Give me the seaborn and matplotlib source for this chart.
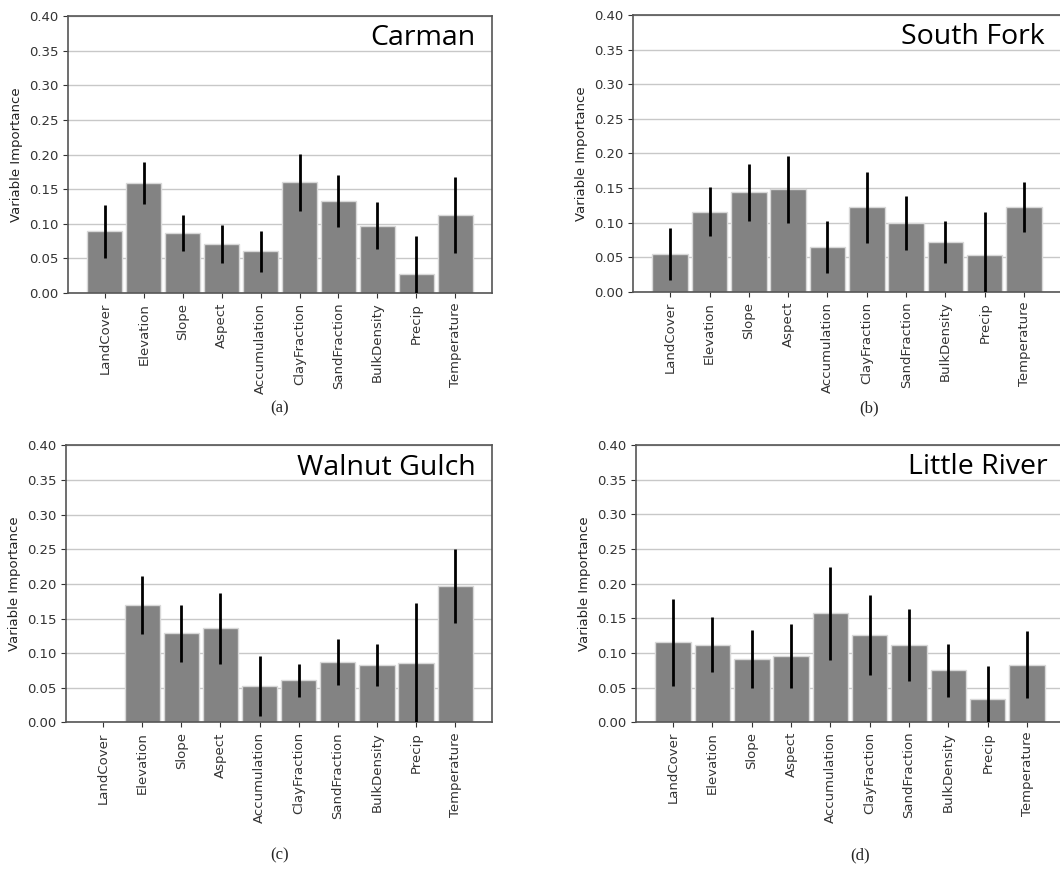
import matplotlib
matplotlib.use("Agg")
import matplotlib.pyplot as plt
import seaborn as sns
import pandas as pd

variables = ["LandCover", "Elevation", "Slope", "Aspect", "Accumulation",
             "ClayFraction", "SandFraction", "BulkDensity", "Precip", "Temperature"]

carman_mean = [0.089, 0.159, 0.086, 0.071, 0.060, 0.160, 0.133, 0.097, 0.027, 0.113]
carman_sd = [0.038, 0.030, 0.026, 0.027, 0.030, 0.041, 0.038, 0.034, 0.056, 0.055]

southfork_mean = [0.055, 0.116, 0.144, 0.148, 0.065, 0.122, 0.099, 0.072, 0.053, 0.123]
southfork_sd = [0.037, 0.035, 0.041, 0.049, 0.037, 0.051, 0.039, 0.030, 0.063, 0.036]

walnut_mean = [0.0, 0.170, 0.129, 0.136, 0.053, 0.061, 0.087, 0.083, 0.086, 0.197]
walnut_sd = [0.0, 0.042, 0.041, 0.051, 0.043, 0.024, 0.033, 0.031, 0.087, 0.054]

little_mean = [0.115, 0.112, 0.091, 0.095, 0.157, 0.126, 0.112, 0.075, 0.033, 0.083]
little_sd = [0.063, 0.040, 0.042, 0.046, 0.067, 0.058, 0.052, 0.038, 0.048, 0.048]

panels = [
    ("Carman", "(a)", carman_mean, carman_sd),
    ("South Fork", "(b)", southfork_mean, southfork_sd),
    ("Walnut Gulch", "(c)", walnut_mean, walnut_sd),
    ("Little River", "(d)", little_mean, little_sd),
]

# axes boxes in figure fractions (left, bottom, width, height)
# right-hand panels run a little past the image edge, as in the original crop
boxes = [
    (0.0642, 0.6628, 0.400, 0.3188),
    (0.5972, 0.6640, 0.404, 0.3188),
    (0.0623, 0.1686, 0.402, 0.3188),
    (0.6000, 0.1690, 0.404, 0.3188),
]
tag_x = [280 / 1060, 869 / 1060, 280 / 1060, 860 / 1060]
tag_y = [1 - 408 / 869, 1 - 408 / 869, 1 - 855 / 869, 1 - 855 / 869]

sns.set_style("whitegrid", {
    "axes.edgecolor": "#555555",
    "grid.color": "#c8c8c8",
    "xtick.bottom": True,
    "ytick.left": True,
})
plt.rcParams["font.family"] = ["DejaVu Sans"]
plt.rcParams["xtick.major.size"] = 3.5
plt.rcParams["ytick.major.size"] = 3.5
plt.rcParams["xtick.color"] = "#333333"
plt.rcParams["ytick.color"] = "#333333"

fig = plt.figure(figsize=(10.6, 8.69), dpi=100)

for i, ((name, tag, mean, sd), box) in enumerate(zip(panels, boxes)):
    ax = fig.add_axes(box)
    df = pd.DataFrame({"variable": variables, "importance": mean})
    sns.barplot(data=df, x="variable", y="importance", color="#838383",
                saturation=1, width=0.9, edgecolor="#d8d8d8", linewidth=1,
                errorbar=None, ax=ax, zorder=2)
    ax.errorbar(range(len(variables)), mean, yerr=sd, fmt="none",
                ecolor="black", elinewidth=2, capsize=0, zorder=3)
    ax.set_xlim(-0.945, len(variables) - 0.055)
    ax.set_ylim(0, 0.40)
    ax.set_yticks([k * 0.05 for k in range(9)])
    ax.set_yticklabels([f"{k * 0.05:.2f}" for k in range(9)], fontsize=9.5)
    ax.set_xticks(range(len(variables)))
    ax.set_xticklabels(variables, rotation=90, fontsize=9.5)
    ax.grid(axis="x", visible=False)
    ax.grid(axis="y", linewidth=1)
    ax.set_axisbelow(True)
    ax.set_xlabel("")
    ax.set_ylabel("Variable Importance", fontsize=9.5, color="#222222")
    for s in ax.spines.values():
        s.set_linewidth(1.2)
    ax.text(0.962, 0.92, name, transform=ax.transAxes, ha="right", va="center",
            fontsize=20.5, family=["Open Sans", "DejaVu Sans"], color="black")
    fig.text(tag_x[i], tag_y[i], tag, ha="center", va="center",
             fontsize=12, family=["Liberation Serif", "DejaVu Serif"])

fig.savefig("out.png", dpi=100)
